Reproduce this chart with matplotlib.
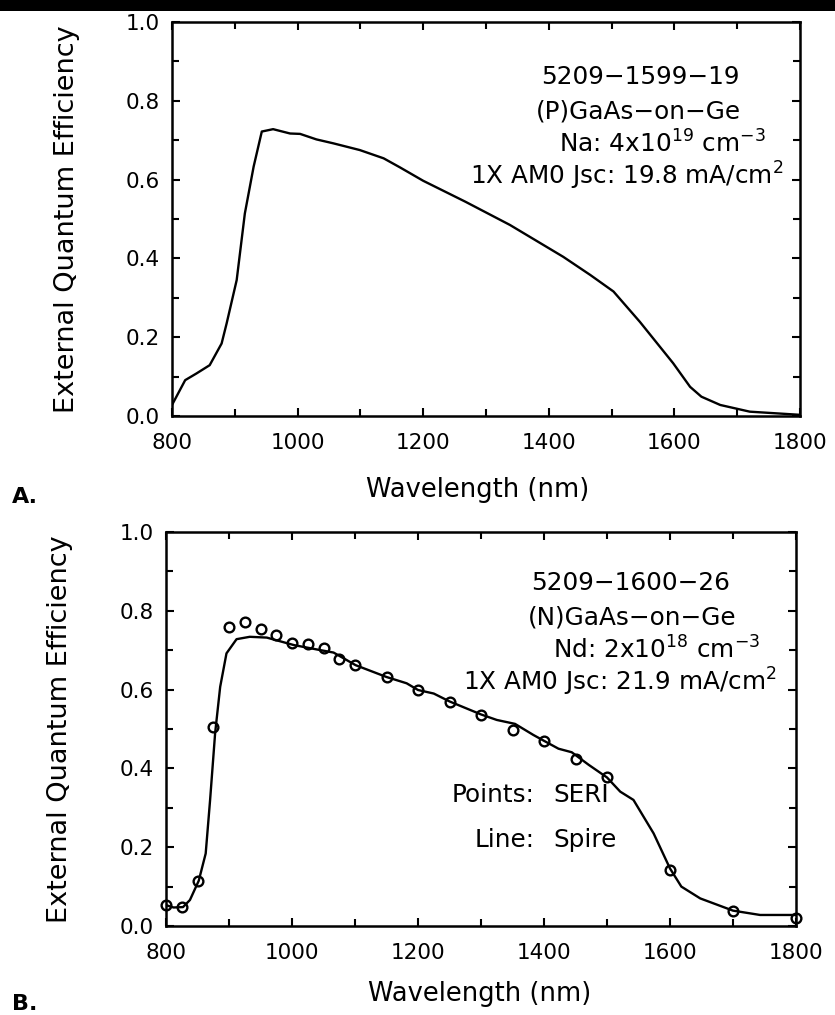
import matplotlib
matplotlib.use("Agg")
import matplotlib.pyplot as plt
from matplotlib.ticker import MultipleLocator
from matplotlib.patches import Rectangle

# Panel A: (P)GaAs-on-Ge quantum efficiency curve
wl_a = [800, 821, 839, 860, 879, 887, 903, 916, 930, 943, 961, 988, 1004, 1030,
        1057, 1099, 1137, 1163, 1200, 1267, 1338, 1423, 1466, 1503, 1545, 1598,
        1625, 1643, 1673, 1720, 1800]
eqe_a = [0.028, 0.091, 0.108, 0.129, 0.184, 0.235, 0.345, 0.514, 0.633, 0.722,
         0.728, 0.717, 0.716, 0.702, 0.692, 0.675, 0.654, 0.631, 0.597, 0.544,
         0.485, 0.404, 0.358, 0.316, 0.239, 0.134, 0.074, 0.049, 0.028, 0.011,
         0.003]

# Panel B: Spire line
wl_b_line = [800, 812, 827, 838, 852, 863, 870, 878, 886, 896, 912, 933, 960,
             1003, 1039, 1066, 1101, 1150, 1182, 1200, 1225, 1250, 1300, 1325,
             1354, 1383, 1400, 1423, 1444, 1471, 1500, 1521, 1542, 1574, 1600,
             1618, 1648, 1700, 1743, 1800]
eqe_b_line = [0.053, 0.047, 0.048, 0.066, 0.115, 0.184, 0.32, 0.49, 0.607, 0.692,
              0.728, 0.734, 0.732, 0.713, 0.702, 0.694, 0.662, 0.632, 0.616,
              0.599, 0.590, 0.570, 0.537, 0.523, 0.513, 0.485, 0.470, 0.450,
              0.441, 0.409, 0.377, 0.341, 0.320, 0.235, 0.146, 0.100, 0.070,
              0.039, 0.028, 0.028]

# Panel B: SERI points
wl_b_pts = [800, 825, 850, 875, 900, 925, 950, 975, 1000, 1025, 1050, 1075, 1100,
            1150, 1200, 1250, 1300, 1350, 1400, 1450, 1500, 1600, 1700, 1800]
eqe_b_pts = [0.053, 0.047, 0.115, 0.504, 0.758, 0.771, 0.755, 0.739, 0.719, 0.716,
             0.705, 0.678, 0.662, 0.631, 0.599, 0.569, 0.536, 0.497, 0.470, 0.425,
             0.377, 0.142, 0.039, 0.020]

x_ticks = [800, 1000, 1200, 1400, 1600, 1800]
y_ticks = [0.0, 0.2, 0.4, 0.6, 0.8, 1.0]

W, H = 835, 1015
TICK_FS = 15.5
NOTE_FS = 17.8
LABEL_FS = 19.5


def px(x, y):
    return x / W, 1 - y / H


def style_axes(ax, ylab_x):
    ax.set_xlim(800, 1800)
    ax.set_ylim(0, 1.0)
    ax.set_xticks(x_ticks)
    ax.set_yticks(y_ticks)
    ax.set_yticklabels([f"{v:.1f}" for v in y_ticks])
    ax.xaxis.set_minor_locator(MultipleLocator(100))
    ax.yaxis.set_minor_locator(MultipleLocator(0.1))
    ax.tick_params(which="both", direction="in", top=True, right=True,
                   width=1.5, color="black")
    ax.tick_params(which="major", length=6, labelsize=TICK_FS)
    ax.tick_params(axis="x", which="major", pad=12)
    ax.tick_params(axis="y", which="major", pad=9)
    ax.tick_params(which="minor", length=5)
    for s in ax.spines.values():
        s.set_linewidth(1.8)
    ax.set_ylabel("External Quantum Efficiency", fontsize=LABEL_FS)
    ax.yaxis.set_label_coords(ylab_x, 0.5)


fig = plt.figure(figsize=(W / 100, H / 100), dpi=100)

ax1 = fig.add_axes([172 / W, 1 - 416 / H, 628 / W, 394 / H])
style_axes(ax1, (80 - 172) / 628)
ax1.plot(wl_a, eqe_a, color="black", lw=1.7)

ax2 = fig.add_axes([166 / W, 1 - 926 / H, 630 / W, 394 / H])
style_axes(ax2, (73 - 166) / 630)
ax2.plot(wl_b_line, eqe_b_line, color="black", lw=1.7)
ax2.plot(wl_b_pts, eqe_b_pts, "o", mfc="none", mec="black", ms=7, mew=1.7,
         clip_on=False)

# annotation text, panel A
fig.text(*px(640, 77), "5209\u22121599\u221219", fontsize=NOTE_FS, ha="center", va="center")
fig.text(*px(638, 111), "(P)GaAs\u2212on\u2212Ge", fontsize=NOTE_FS, ha="center", va="center")
fig.text(*px(662, 144), "Na: 4x10$^{19}$ cm$^{-3}$", fontsize=NOTE_FS, ha="center", va="center")
fig.text(*px(627, 176), "1X AM0 Jsc: 19.8 mA/cm$^{2}$", fontsize=NOTE_FS, ha="center", va="center")

# annotation text, panel B
fig.text(*px(631, 583), "5209\u22121600\u221226", fontsize=NOTE_FS, ha="center", va="center")
fig.text(*px(632, 617), "(N)GaAs\u2212on\u2212Ge", fontsize=NOTE_FS, ha="center", va="center")
fig.text(*px(657, 650), "Nd: 2x10$^{18}$ cm$^{-3}$", fontsize=NOTE_FS, ha="center", va="center")
fig.text(*px(620, 682), "1X AM0 Jsc: 21.9 mA/cm$^{2}$", fontsize=NOTE_FS, ha="center", va="center")
fig.text(*px(535, 795), "Points:", fontsize=NOTE_FS, ha="right", va="center")
fig.text(*px(553, 795), "SERI", fontsize=NOTE_FS, ha="left", va="center")
fig.text(*px(535, 840), "Line:", fontsize=NOTE_FS, ha="right", va="center")
fig.text(*px(553, 840), "Spire", fontsize=NOTE_FS, ha="left", va="center")

# x labels
fig.text(*px(478, 490), "Wavelength (nm)", fontsize=LABEL_FS - 1, ha="center", va="center")
fig.text(*px(480, 994), "Wavelength (nm)", fontsize=LABEL_FS - 1, ha="center", va="center")

# panel letters
fig.text(*px(12, 497), "A.", fontsize=16, ha="left", va="center", fontweight="bold")
fig.text(*px(12, 1004), "B.", fontsize=16, ha="left", va="center", fontweight="bold")

# scan border at top
fig.patches.append(Rectangle((0, 1 - 11 / H), 1, 11 / H, transform=fig.transFigure,
                             facecolor="black", edgecolor="none"))

fig.savefig("out.png", dpi=100)
